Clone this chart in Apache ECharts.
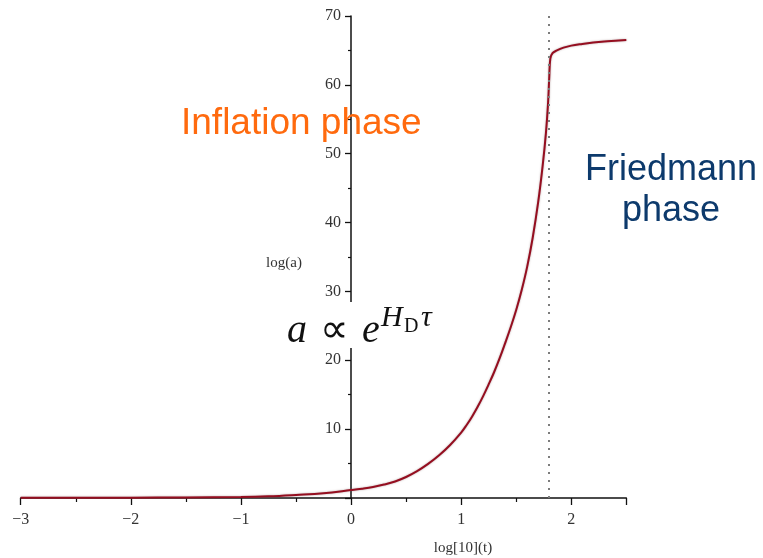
<!DOCTYPE html>
<html>
<head>
<meta charset="utf-8">
<script src="https://cdn.jsdelivr.net/npm/echarts@6/dist/echarts.min.js"></script>
<style>
  html, body { margin: 0; padding: 0; background: #ffffff; }
  #chart { width: 763px; height: 558px; }
</style>
</head>
<body>
<div id="chart"></div>
<script>
// log10 of time (x) and log of the scale factor (y)
const logT = [-3.0, -2.5, -2.0, -1.5, -1.0, -0.75, -0.5, -0.25, 0.0, 0.1, 0.2, 0.3, 0.4, 0.5, 0.6, 0.7, 0.8, 0.9, 1.0, 1.05, 1.1, 1.15, 1.2, 1.25, 1.3, 1.35, 1.4, 1.45, 1.5, 1.55, 1.6, 1.65, 1.7, 1.74, 1.77, 1.79, 1.8, 1.81, 1.83, 1.87, 1.93, 2.0, 2.1, 2.2, 2.3, 2.4, 2.5];
const logA = [0.02, 0.03, 0.05, 0.08, 0.15, 0.25, 0.45, 0.7, 1.15, 1.35, 1.6, 1.95, 2.4, 3.05, 3.9, 4.95, 6.2, 7.7, 9.5, 10.6, 11.85, 13.25, 14.8, 16.5, 18.3, 20.3, 22.5, 24.8, 27.3, 30.2, 33.6, 37.8, 43.0, 48.2, 53.0, 57.5, 61.0, 63.8, 64.6, 65.0, 65.4, 65.7, 65.95, 66.15, 66.3, 66.4, 66.5];

// transition between the two phases
const transitionLogT = 1.795;

// axis ticks and their labels
const xTicks = [-3, -2, -1, 0, 1, 2];
const xTickLabels = ['\u22123', '\u22122', '\u22121', '0', '1', '2'];
const yTicks = [0, 10, 20, 30, 40, 50, 60, 70];
const yTickLabels = ['', '10', '20', '30', '40', '50', '60', '70'];

// annotation texts
const inflationLabel = 'Inflation phase';
const friedmannLabel = ['Friedmann', 'phase'];
const xAxisName = 'log[10](t)';
const yAxisName = 'log(a)';

const chart = echarts.init(document.getElementById('chart'), null, { renderer: 'canvas' });

const serif = '"Liberation Serif", "Times New Roman", serif';
const sans = '"Liberation Sans", Arial, sans-serif';

const gridLeft = 20.7;
const gridRight = 136.7;
const xMin = -3, xMax = 2.5;
const plotWidth = 763 - gridLeft - gridRight;
// the vertical axis sits at log10(t) = 0
const yAxisShift = plotWidth * (0 - xMin) / (xMax - xMin);

const option = {
  animation: false,
  backgroundColor: '#ffffff',
  grid: { left: gridLeft, right: gridRight, top: 16, bottom: 60, containLabel: false },
  xAxis: {
    type: 'value',
    min: xMin,
    max: xMax,
    interval: 1,
    axisLine: { onZero: false, lineStyle: { color: '#111', width: 1.5 } },
    axisTick: { show: true, length: 7, lineStyle: { color: '#111', width: 1.3 } },
    minorTick: { show: true, splitNumber: 2, length: 4, lineStyle: { color: '#111', width: 1.2 } },
    splitLine: { show: false },
    minorSplitLine: { show: false },
    axisLabel: {
      margin: 14,
      fontFamily: serif,
      fontSize: 16,
      color: '#333',
      formatter: v => {
        const i = xTicks.indexOf(Math.round(v * 1000) / 1000);
        return i >= 0 ? xTickLabels[i] : '';
      }
    }
  },
  yAxis: {
    type: 'value',
    min: 0,
    max: 70,
    interval: 10,
    position: 'left',
    offset: -yAxisShift,
    axisLine: { onZero: false, lineStyle: { color: '#111', width: 1.5 } },
    axisTick: { show: true, length: 6, lineStyle: { color: '#111', width: 1.3 } },
    minorTick: { show: true, splitNumber: 2, length: 3, lineStyle: { color: '#111', width: 1.2 } },
    splitLine: { show: false },
    minorSplitLine: { show: false },
    axisLabel: {
      margin: 10,
      fontFamily: serif,
      fontSize: 16,
      color: '#333',
      formatter: v => {
        const i = yTicks.indexOf(Math.round(v));
        return i >= 0 ? yTickLabels[i] : '';
      }
    }
  },
  series: [
    {
      type: 'line',
      data: logT.map((x, i) => [x, logA[i]]),
      showSymbol: false,
      smooth: 0.4,
      lineStyle: {
        color: '#950e20',
        width: 2,
        shadowColor: 'rgba(120, 90, 90, 0.55)',
        shadowBlur: 2
      },
      z: 3,
      markLine: {
        silent: true,
        symbol: ['none', 'none'],
        label: { show: false },
        lineStyle: { color: '#7c7c7c', width: 2, type: [2, 6] },
        data: [[{ coord: [transitionLogT, 0] }, { coord: [transitionLogT, 70] }]]
      }
    }
  ],
  graphic: [
    // axis names
    {
      type: 'text', x: 463, y: 548, z: 10,
      style: { text: xAxisName, font: '15px ' + serif, fill: '#333', align: 'center', verticalAlign: 'middle' }
    },
    {
      type: 'text', x: 284, y: 263, z: 10,
      style: { text: yAxisName, font: '15px ' + serif, fill: '#333', align: 'center', verticalAlign: 'middle' }
    },
    // phase annotations
    {
      type: 'text', x: 181, y: 124, z: 20,
      style: { text: inflationLabel, font: '37px ' + sans, fill: '#ff6a0e', align: 'left', verticalAlign: 'middle' }
    },
    {
      type: 'text', x: 671, y: 170, z: 20,
      style: { text: friedmannLabel[0], font: '36px ' + sans, fill: '#0d3a6c', align: 'center', verticalAlign: 'middle' }
    },
    {
      type: 'text', x: 671, y: 211, z: 20,
      style: { text: friedmannLabel[1], font: '36px ' + sans, fill: '#0d3a6c', align: 'center', verticalAlign: 'middle' }
    },
    // scale-factor relation on a white panel
    {
      type: 'rect', z: 15,
      shape: { x: 281, y: 302, width: 170, height: 46 },
      style: { fill: '#ffffff' }
    },
    {
      type: 'text', x: 287, y: 331, z: 16,
      style: { text: 'a', font: 'italic 40px ' + serif, fill: '#111', align: 'left', verticalAlign: 'middle' }
    },
    {
      type: 'text', x: 320, y: 331, z: 16,
      style: { text: '\u221D', font: '40px ' + serif, fill: '#111', align: 'left', verticalAlign: 'middle' }
    },
    {
      type: 'text', x: 362, y: 331, z: 16,
      style: { text: 'e', font: 'italic 40px ' + serif, fill: '#111', align: 'left', verticalAlign: 'middle' }
    },
    {
      type: 'text', x: 381, y: 318, z: 16,
      style: { text: 'H', font: 'italic 30px ' + serif, fill: '#111', align: 'left', verticalAlign: 'middle' }
    },
    {
      type: 'text', x: 404, y: 327, z: 16,
      style: { text: 'D', font: '20px ' + serif, fill: '#111', align: 'left', verticalAlign: 'middle' }
    },
    {
      type: 'text', x: 421, y: 318, z: 16,
      style: { text: '\u03C4', font: 'italic 30px ' + serif, fill: '#111', align: 'left', verticalAlign: 'middle' }
    }
  ]
};

chart.setOption(option);
</script>
</body>
</html>
